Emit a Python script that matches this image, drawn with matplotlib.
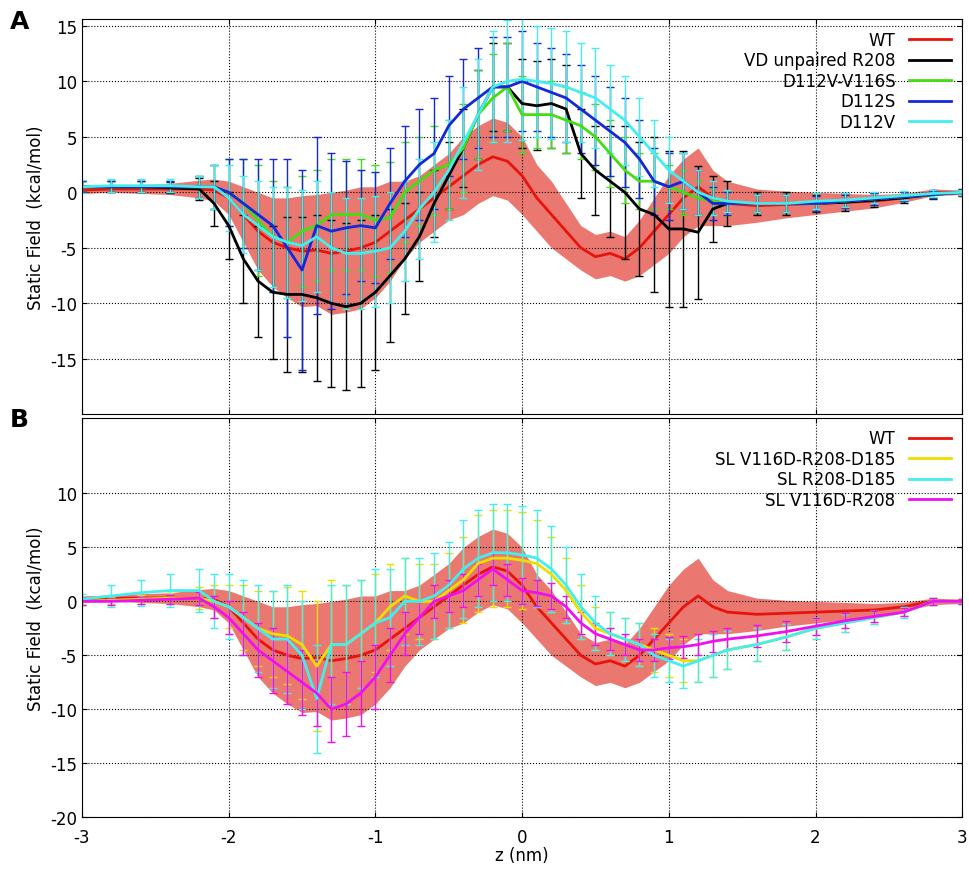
import matplotlib
matplotlib.use('Agg')
import matplotlib.pyplot as plt
from matplotlib.lines import Line2D
import numpy as np

plt.rcParams['font.family'] = ['DejaVu Sans']
plt.rcParams['font.size'] = 11
plt.rcParams['axes.unicode_minus'] = False

z = [-3.0, -2.8, -2.6, -2.4,
     -2.2, -2.1, -2.0, -1.9, -1.8, -1.7, -1.6, -1.5, -1.4, -1.3,
     -1.2, -1.1, -1.0, -0.9, -0.8, -0.7, -0.6, -0.5, -0.4, -0.3,
     -0.2, -0.1, 0.0, 0.1, 0.2, 0.3, 0.4, 0.5, 0.6, 0.7,
     0.8, 0.9, 1.0, 1.1, 1.2, 1.3, 1.4,
     1.6, 1.8, 2.0, 2.2, 2.4, 2.6, 2.8, 3.0]

wt = [0.2, 0.3, 0.3, 0.3,
      0.3, 0.2, -0.5, -2, -3.5, -4.5, -5, -5.3, -5.2, -5.5,
      -5.3, -5, -4.5, -3.5, -2.5, -1.5, -0.5, 0.5, 1.5, 2.5,
      3.2, 2.8, 1.5, -0.5, -2, -3.5, -5, -5.8, -5.5, -6,
      -5, -3.5, -2, -0.5, 0.5, -0.5, -1,
      -1.2, -1.1, -1, -0.9, -0.8, -0.5, 0, 0]
wt_err = [0.3, 0.3, 0.4, 0.5,
          0.8, 1, 1.5, 2.5, 3.5, 4, 4.5, 5, 5, 5.5,
          5.5, 5.5, 5, 4.5, 3.5, 3, 3, 3, 3.5, 3.5,
          3.5, 3.5, 3.5, 3, 3, 2.5, 2, 2, 2, 2,
          2.5, 3, 3.5, 3.5, 3.5, 2.5, 2,
          1.5, 1.2, 1, 0.8, 0.6, 0.4, 0.3, 0.2]

vd = [0.5, 0.5, 0.5, 0.4,
      0.3, -1, -3, -6, -8, -9, -9.2, -9.2, -9.5, -10,
      -10.3, -10, -9, -7.5, -6, -4, -1, 1.5, 4, 7,
      9.5, 9.5, 8, 7.8, 8, 7.5, 3.5, 2, 1, 0,
      -1.5, -2, -3.3, -3.3, -3.6, -1.5, -1,
      -1, -1, -1, -0.9, -0.7, -0.5, -0.2, 0]
vd_err = [0.5, 0.5, 0.5, 0.5,
          1, 2, 3, 4, 5, 6, 7, 7, 7.5, 7.5,
          7.5, 7.5, 7, 6, 5, 4, 3, 3, 3.5, 4,
          4, 4, 4, 4, 4, 4, 4, 4, 5, 6,
          6, 7, 7, 7, 6, 3, 2,
          1, 1, 0.8, 0.8, 0.6, 0.5, 0.4, 0.3]

d112v_v116s = [0.5, 0.5, 0.5, 0.5,
               0.5, 0.5, 0, -1, -2.5, -4, -4.5, -3.5, -3, -2,
               -2, -2, -2.5, -2.3, 0, 1, 2, 2.5, 4, 7,
               8.5, 9.5, 7, 7, 7, 6.5, 6, 5, 3.5, 2,
               1, 1, 0.5, 0, -0.5, -0.8, -1,
               -1, -1, -1, -0.8, -0.6, -0.4, -0.2, 0]
d112v_v116s_err = [0.5, 0.5, 0.5, 0.5,
                   1, 2, 3, 4, 5, 5, 5, 5, 5, 5,
                   5, 5, 5, 5, 4.5, 4, 4, 4, 4, 4,
                   4, 4, 3.5, 3, 3, 3, 3, 3, 3, 3,
                   2.5, 2.5, 2, 2, 1.5, 1.2, 1,
                   0.8, 0.8, 0.7, 0.6, 0.5, 0.4, 0.3, 0.2]

d112s = [0.5, 0.5, 0.5, 0.5,
         0.5, 0.5, 0, -1, -2, -3, -5, -7, -3, -3.5,
         -3.2, -3, -3.2, -1, 1, 2.5, 3.5, 6, 7.5, 8.5,
         9.5, 9.5, 10, 9.5, 9, 8.5, 7.5, 6.5, 5.5, 4.5,
         3, 1, 0.5, 1, 0, -1, -1,
         -1, -1, -1, -0.8, -0.6, -0.4, -0.2, 0]
d112s_err = [0.5, 0.5, 0.5, 0.5,
             1, 2, 3, 4, 5, 6, 8, 9, 8, 7,
             6, 5, 5, 5, 5, 5, 5, 4.5, 4.5, 4.5,
             4.5, 4.5, 4.5, 4, 4, 4, 4, 4, 4, 4,
             3.5, 3, 3, 2.5, 2, 1.5, 1,
             0.8, 0.8, 0.7, 0.6, 0.5, 0.4, 0.3, 0.2]

d112v = [0.5, 0.6, 0.6, 0.6,
         0.5, 0.5, -0.5, -2, -3, -4, -4.5, -4.8, -4, -5,
         -5.5, -5.5, -5.3, -5, -3.5, -1.5, 0, 2, 4.5, 7,
         9.5, 10, 10.2, 10, 9.8, 9.5, 9, 8.5, 7.5, 6.5,
         5, 3.5, 2, 1, 0, -0.5, -0.8,
         -1, -1, -0.8, -0.7, -0.5, -0.3, -0.1, 0]
d112v_err = [0.6, 0.6, 0.6, 0.6,
             1, 2, 3, 3.5, 4, 4.5, 5, 5, 5, 5,
             5, 5, 5, 5, 4.5, 4.5, 4.5, 4.5, 5, 5,
             5, 5.5, 5.5, 5, 5, 5, 4.5, 4.5, 4, 4,
             3.5, 3, 3, 2.5, 2, 1.5, 1,
             0.8, 0.8, 0.7, 0.6, 0.5, 0.4, 0.3, 0.2]

sl_v116d_r208_d185 = [0, 0.1, 0.2, 0.3,
                      0.3, 0, -0.5, -1.5, -2.5, -3, -3.2, -4, -6, -4,
                      -4, -3, -2, -0.5, 0.5, 0, 0, 1, 2, 3.5,
                      4, 4, 3.8, 3.5, 2.5, 1, -1, -2.5, -3, -3.5,
                      -4, -4.5, -5, -5.5, -5.5, -5, -4.5,
                      -4, -3.3, -2.5, -2, -1.5, -1, 0, 0]
sl_v116d_r208_d185_err = [0.3, 0.3, 0.4, 0.5,
                          1, 1.5, 2, 3, 3.5, 4, 4.5, 5, 6, 6,
                          5.5, 5, 4.5, 4, 3.5, 3.5, 3.5, 3.5, 4, 4.5,
                          4.5, 4.5, 4.5, 4, 3.5, 3, 2.5, 2, 2, 2,
                          2, 2, 2, 2, 2, 2, 1.8,
                          1.5, 1.2, 1, 0.8, 0.6, 0.4, 0.3, 0.2]

sl_r208_d185 = [0.2, 0.5, 0.8, 1,
                1, 0, -0.5, -1.5, -2.5, -3.5, -3.5, -5, -9, -4,
                -4, -3, -2, -1.5, 0, 0, 0.5, 1.5, 3, 4,
                4.5, 4.5, 4.3, 4, 3, 1.5, -0.5, -2, -3, -3.5,
                -4, -5, -5.5, -6, -5.5, -5, -4.5,
                -4, -3.3, -2.5, -2, -1.5, -1, 0, 0]
sl_r208_d185_err = [0.5, 1, 1.2, 1.5,
                    2, 2.5, 3, 3.5, 4, 4.5, 5, 5, 5, 5.5,
                    5.5, 5, 5, 4.5, 4, 4, 4, 4, 4.5, 4.5,
                    4.5, 4.5, 4.5, 4.5, 4, 3.5, 3, 2.5, 2, 2,
                    2, 2, 2, 2, 2, 2, 1.8,
                    1.5, 1.2, 1, 0.8, 0.6, 0.5, 0.3, 0.2]

sl_v116d_r208 = [0, 0, 0.1, 0.2,
                 0.3, -0.5, -1.5, -3, -4.5, -5.5, -6.5, -7.5, -8.5, -10,
                 -9.5, -8.5, -7, -5, -3, -1.5, 0, 0.5, 1, 2,
                 3, 2, 1, 0.8, 0.5, -0.5, -2, -3, -3.5, -4,
                 -4.5, -4.5, -4.3, -4.2, -4, -3.7, -3.5,
                 -3.2, -2.8, -2.3, -1.8, -1.4, -1, 0, 0]
sl_v116d_r208_err = [0.3, 0.3, 0.3, 0.4,
                     0.6, 1, 1.5, 2, 2.5, 3, 3, 3, 3, 3,
                     3, 3, 3, 2.5, 2, 1.5, 1.5, 1.5, 1.5, 1.5,
                     1.5, 1.5, 1.2, 1.2, 1.2, 1, 1, 1, 1, 1,
                     1, 1, 1, 1, 1, 1, 1,
                     1, 1, 0.8, 0.7, 0.5, 0.4, 0.3, 0.2]

RED = '#e8140c'
BAND = '#ea7870'

fig = plt.figure(figsize=(9.7, 8.78), dpi=100)
axA = fig.add_axes([0.0845, 0.527, 0.9075, 0.450])
axB = fig.add_axes([0.0845, 0.068, 0.9075, 0.455])


def draw_wt(ax):
    w = np.array(wt)
    e = np.array(wt_err)
    ax.fill_between(z, w - e, w + e, color=BAND, lw=0)
    ax.plot(z, w, color=RED, lw=2)
    return Line2D([], [], color=RED, lw=2)


def draw_err(ax, y, err, color):
    ax.errorbar(z, y, yerr=err, color=color, lw=2, elinewidth=1, capsize=3)
    return Line2D([], [], color=color, lw=2)


hA = [draw_wt(axA),
      draw_err(axA, vd, vd_err, 'black'),
      draw_err(axA, d112v_v116s, d112v_v116s_err, '#44dd14'),
      draw_err(axA, d112s, d112s_err, '#1428d8'),
      draw_err(axA, d112v, d112v_err, '#44eeee')]
lA = ['WT', 'VD unpaired R208', 'D112V-V116S', 'D112S', 'D112V']

hB = [draw_wt(axB),
      draw_err(axB, sl_v116d_r208_d185, sl_v116d_r208_d185_err, '#eedd00'),
      draw_err(axB, sl_r208_d185, sl_r208_d185_err, '#44eeee'),
      draw_err(axB, sl_v116d_r208, sl_v116d_r208_err, '#ee10ee')]
lB = ['WT', 'SL V116D-R208-D185', 'SL R208-D185', 'SL V116D-R208']

for ax, h, l in ((axA, hA, lA), (axB, hB, lB)):
    ax.set_xlim(-3, 3)
    ax.grid(True, color='black', linestyle=':', linewidth=0.8)
    ax.set_ylabel('Static Field  (kcal/mol)', fontsize=12)
    ax.tick_params(direction='in', labelsize=12, top=True, right=True)
    ax.tick_params(axis='x', pad=8)
    ax.set_xticks(range(-3, 4))
    leg = ax.legend(h, l, loc='upper right', frameon=False, markerfirst=False,
                    fontsize=12, handlelength=2.5, labelspacing=0.15,
                    borderaxespad=0.3)
    for t in leg.get_texts():
        t.set_ha('right')

axA.set_ylim(-20, 15.6)
axA.set_yticks(range(-15, 16, 5))
axA.tick_params(labelbottom=False)
axB.set_ylim(-20, 17)
axB.set_yticks(range(-20, 11, 5))
axB.set_xlabel('z (nm)', fontsize=12, labelpad=0)

fig.text(0.01, 0.975, 'A', fontsize=18, fontweight='bold', va='center')
fig.text(0.01, 0.522, 'B', fontsize=18, fontweight='bold', va='center')

fig.savefig('out.png', dpi=100)
